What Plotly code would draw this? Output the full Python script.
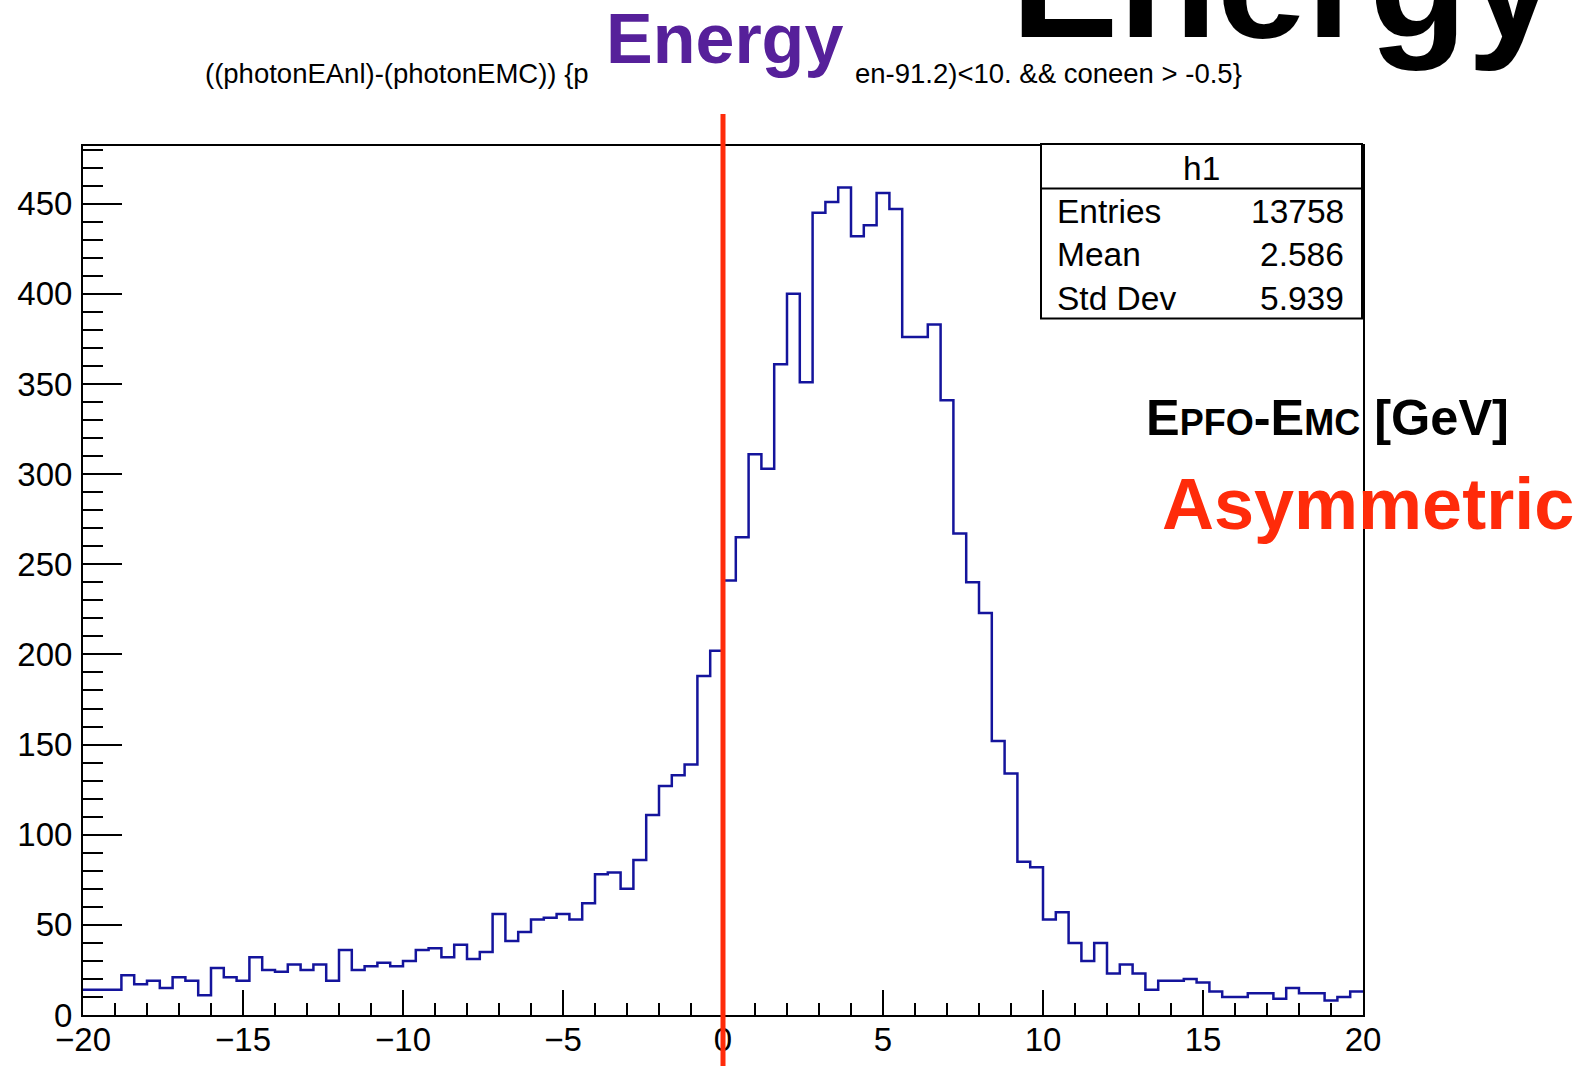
import numpy as np
import plotly.graph_objects as go

# ---------------- data ----------------
x_min, x_max, n_bins = -20.0, 20.0, 100
counts = [14, 14, 14, 22, 17, 19, 15, 21, 19, 11,
          26, 21, 19, 32, 25, 24, 28, 25, 28, 19,
          36, 25, 27, 29, 27, 30, 36, 37, 32, 39,
          31, 35, 56, 41, 46, 53, 54, 56, 53, 62,
          78, 79, 70, 86, 111, 127, 133, 139, 188, 202,
          241, 265, 311, 303, 361, 400, 351, 445, 451, 459,
          432, 438, 456, 447, 376, 376, 383, 341, 267, 240,
          223, 152, 134, 85, 82, 53, 57, 40, 30, 40,
          23, 28, 23, 14, 19, 19, 20, 18, 13, 10,
          10, 12, 12, 9, 15, 12, 12, 8, 10, 13]
stat_names = ["Entries", "Mean", "Std Dev"]
stat_values = ["13758", "2.586", "5.939"]
hist_name = "h1"
title_left = "((photonEAnl)-(photonEMC)) {p"
title_right = "en-91.2)<10. && coneen > -0.5}"
marker_x = 0.0

# ---------------- layout geometry ----------------
W, H = 1580, 1066
ML, MR, MT, MB = 83, 217, 146, 51
PW, PH = W - ML - MR, H - MT - MB


def px(x):
    return (x - ML) / PW


def py(y):
    return (H - MB - y) / PH


FONT = "Liberation Sans"
TICKF = 33

edges = np.linspace(x_min, x_max, n_bins + 1)
ys = list(counts) + [counts[-1]]

fig = go.Figure()
fig.add_trace(go.Scatter(
    x=edges, y=ys, mode="lines", line=dict(color="#14149c", width=2.5, shape="hv"),
    hoverinfo="skip", showlegend=False))

fig.update_layout(
    width=W, height=H, margin=dict(l=ML, r=MR, t=MT, b=MB, autoexpand=False),
    plot_bgcolor="white", paper_bgcolor="white",
    font=dict(family=FONT, color="black", size=TICKF),
    showlegend=False,
)
fig.update_xaxes(
    range=[x_min, x_max], dtick=5, tick0=0, ticks="inside", ticklen=25, tickwidth=2,
    tickcolor="black", showline=True, linecolor="black", linewidth=2, mirror=True,
    showgrid=False, zeroline=False, tickfont=dict(size=TICKF, family=FONT),
    ticklabelstandoff=-6, automargin=False,
    minor=dict(ticks="inside", ticklen=12, dtick=1, tickwidth=2, tickcolor="black", showgrid=False),
)
fig.update_yaxes(
    range=[0, 482], dtick=50, tick0=0, ticks="inside", ticklen=39, tickwidth=2,
    tickcolor="black", showline=True, linecolor="black", linewidth=2, mirror=True,
    showgrid=False, zeroline=False, tickfont=dict(size=TICKF, family=FONT),
    ticklabelstandoff=2, automargin=False,
    minor=dict(ticks="inside", ticklen=20, dtick=10, tickwidth=2, tickcolor="black", showgrid=False),
)

# red vertical marker at x = 0
fig.add_shape(type="line", xref="x", yref="paper", x0=marker_x, x1=marker_x,
              y0=py(1070), y1=py(114), line=dict(color="#ff2b0a", width=5), layer="above")

# stats box
bx0, bx1, by0, by1, bsep = 1041, 1362, 144, 318.5, 188.4
fig.add_shape(type="rect", xref="paper", yref="paper", x0=px(bx0), x1=px(bx1),
              y0=py(by1), y1=py(by0), line=dict(color="black", width=2), fillcolor="white",
              layer="above")
fig.add_shape(type="line", xref="paper", yref="paper", x0=px(bx0), x1=px(bx1),
              y0=py(bsep), y1=py(bsep), line=dict(color="black", width=2), layer="above")

ann = []
ann.append(dict(text=hist_name, x=px((bx0 + bx1) / 2), y=py(168), xanchor="center",
                yanchor="middle", font=dict(size=33.5)))
row_y = [212, 254, 298.3]
for name, val, yy in zip(stat_names, stat_values, row_y):
    ann.append(dict(text=name, x=px(1055), y=py(yy), xanchor="left", yanchor="middle",
                    font=dict(size=33.5)))
    ann.append(dict(text=val, x=px(1346), y=py(yy), xanchor="right", yanchor="middle",
                    font=dict(size=33.5)))

# title pieces
ann.append(dict(text=title_left, x=px(203), y=py(74), xanchor="left", yanchor="middle",
                font=dict(size=27.5)))
ann.append(dict(text=title_right, x=px(1244), y=py(74), xanchor="right", yanchor="middle",
                font=dict(size=27.5)))

# overlaid labels
ann.append(dict(text="<b>Energy</b>", x=px(724), y=py(39), xanchor="center", yanchor="middle",
                font=dict(size=70, color="#56209a")))
ann.append(dict(text="<b>Energy</b>", x=px(1284), y=py(-19), xanchor="center", yanchor="middle",
                font=dict(size=161, color="black")))
ann.append(dict(text="<b>E<span style='font-size:36px'>PFO</span>-E<span style='font-size:36px'>MC</span> [GeV]</b>",
                x=px(1144), y=py(418), xanchor="left", yanchor="middle",
                font=dict(size=50.5, color="black")))
ann.append(dict(text="<b>Asymmetric</b>", x=px(1160), y=py(504), xanchor="left", yanchor="middle",
                font=dict(size=72, color="#ff2b0a")))

for a in ann:
    a.update(xref="paper", yref="paper", showarrow=False)
fig.update_layout(annotations=ann)

fig.write_html("out.html")
